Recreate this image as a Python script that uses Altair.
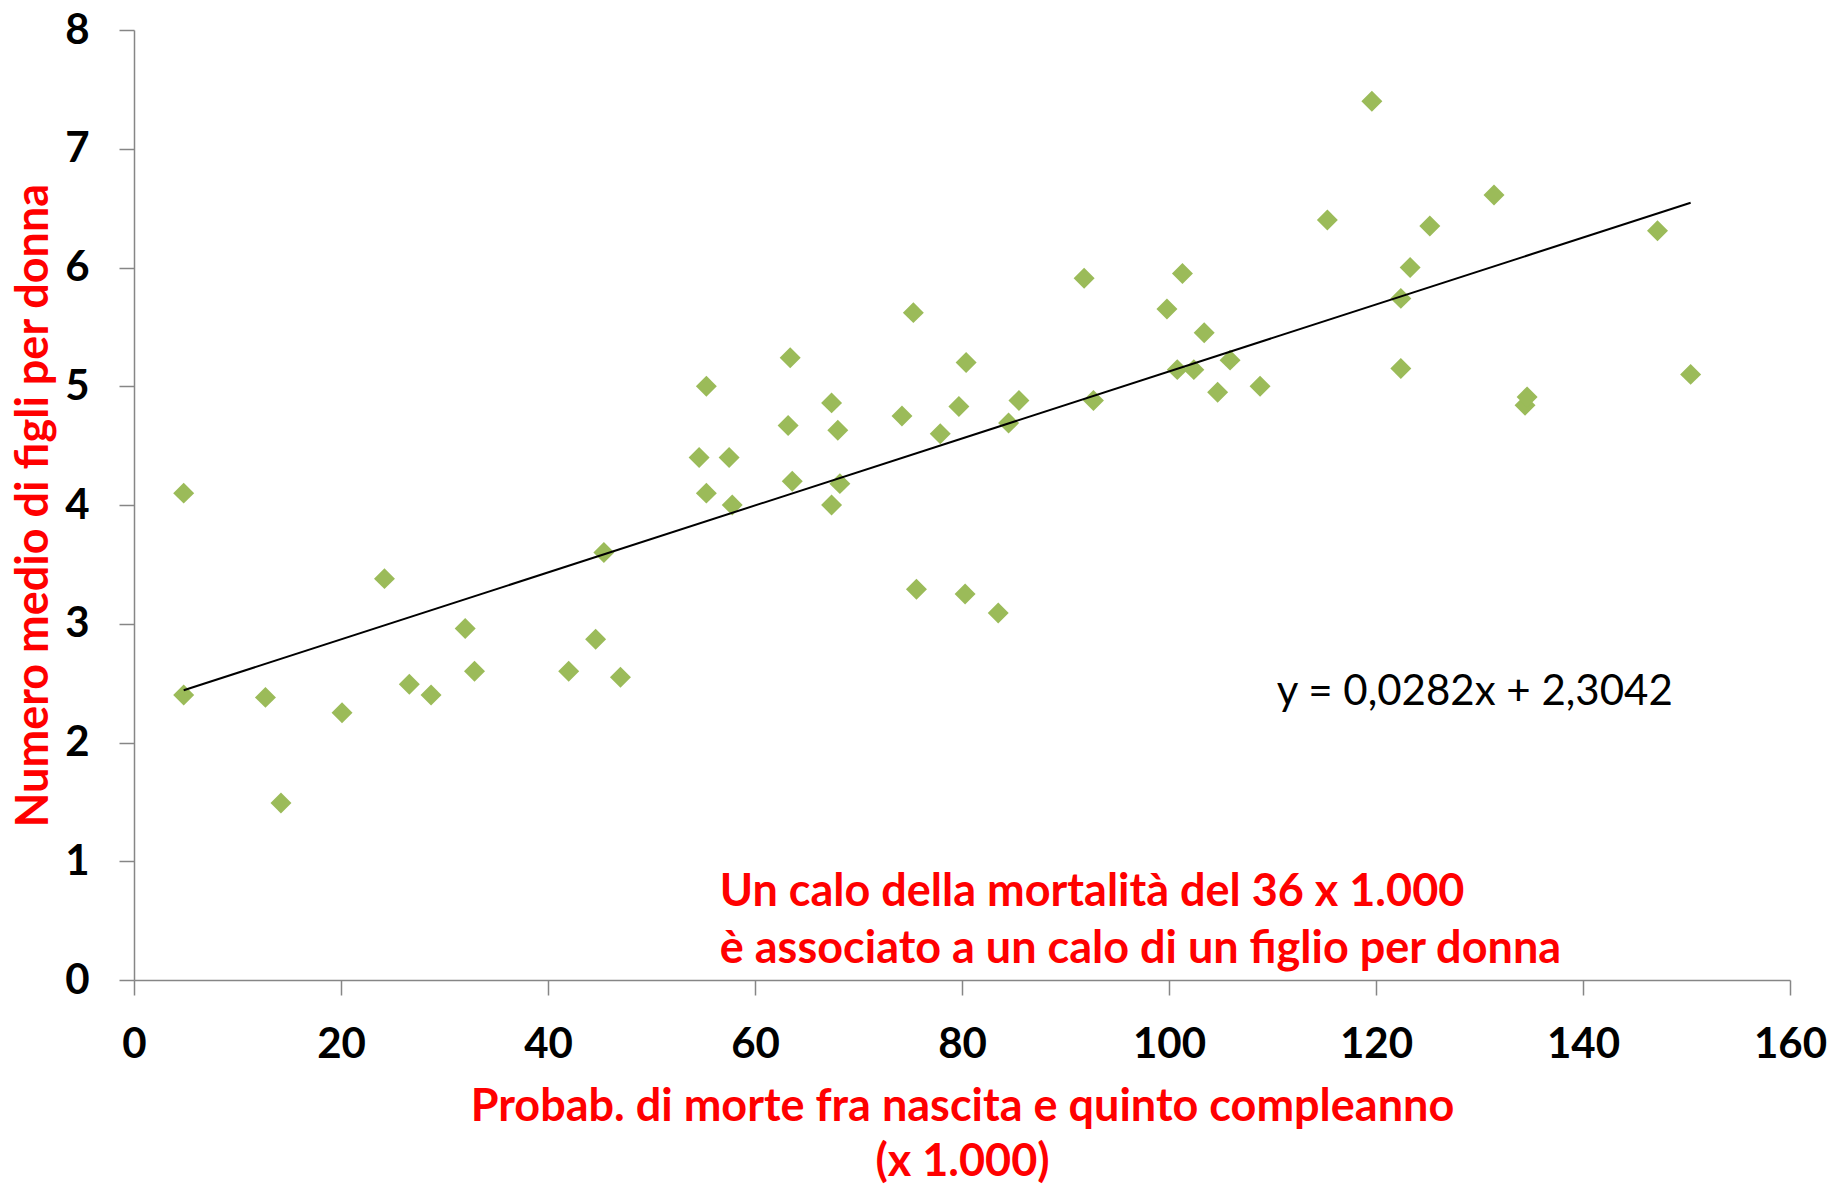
import altair as alt
import pandas as pd

# Data
mortality = [4.8, 4.8, 12.7, 14.2, 20.1, 24.2, 26.6, 28.7, 32.0, 32.9,
             42.0, 44.6, 45.4, 47.0, 54.6, 55.3, 55.3, 57.5, 57.8, 63.2,
             63.4, 63.6, 67.4, 67.4, 68.0, 68.2, 74.2, 75.3, 75.6, 77.9,
             79.7, 80.4, 80.3, 83.5, 84.5, 85.5, 91.8, 92.7, 99.8, 100.8,
             101.3, 102.4, 103.4, 104.7, 105.9, 108.8, 115.3, 119.6, 122.4, 122.4,
             123.3, 125.2, 131.4, 134.4, 134.6, 147.2, 150.4]
children = [4.10, 2.40, 2.38, 1.49, 2.25, 3.38, 2.49, 2.40, 2.96, 2.60,
            2.60, 2.87, 3.60, 2.55, 4.40, 5.00, 4.10, 4.40, 4.00, 4.67,
            5.24, 4.20, 4.86, 4.00, 4.63, 4.18, 4.75, 5.62, 3.29, 4.60,
            4.83, 5.20, 3.25, 3.09, 4.69, 4.88, 5.91, 4.88, 5.65, 5.14,
            5.95, 5.14, 5.45, 4.95, 5.22, 5.00, 6.40, 7.40, 5.74, 5.15,
            6.00, 6.35, 6.61, 4.84, 4.91, 6.31, 5.10]

slope = 0.0282
intercept = 2.3042
equation_text = "y = 0,0282x + 2,3042"
equation_pos = (129.55, 2.315)
note_lines = ["Un calo della mortalità del 36 x 1.000",
              "è associato a un calo di un figlio per donna"]
note_pos = (56.6, 0.622)

x_title = ["Probab. di morte fra nascita e quinto compleanno", "(x 1.000)"]
y_title = "Numero medio di figli per donna"

df = pd.DataFrame({"x": mortality, "y": children})
xmin, xmax = min(mortality), max(mortality)
trend = pd.DataFrame({"x": [xmin, xmax],
                      "y": [slope * xmin + intercept, slope * xmax + intercept]})
eq_df = pd.DataFrame({"x": [equation_pos[0]], "y": [equation_pos[1]], "t": [equation_text]})
note_df = pd.DataFrame({"x": [note_pos[0]], "y": [note_pos[1]]})

W, H = 1656, 950
FONT = "Lato"
RED = "#FF0000"
GRAY = "#868686"
TITLE_SIZE = 45

xscale = alt.Scale(domain=[0, 160], nice=False, zero=False)
yscale = alt.Scale(domain=[0, 8], nice=False)

xaxis = alt.Axis(values=list(range(0, 161, 20)), title=x_title, grid=False, format="d",
                 domainColor=GRAY, domainWidth=1.5, tickColor=GRAY, tickWidth=1.5,
                 tickSize=15, labelPadding=29, labelFont=FONT, labelFontSize=42,
                 labelFontWeight="bold", labelColor="black",
                 titleFont=FONT, titleFontSize=TITLE_SIZE, titleFontWeight="bold",
                 titleColor=RED, titleX=W / 2, titleY=140, titleAlign="center",
                 titleBaseline="alphabetic", titleLineHeight=55, labelFlush=False)
yaxis = alt.Axis(values=list(range(0, 9)), title=y_title, grid=False, format="d",
                 domainColor=GRAY, domainWidth=1.5, tickColor=GRAY, tickWidth=1.5,
                 tickSize=15, labelPadding=30, labelFont=FONT, labelFontSize=42,
                 labelFontWeight="bold", labelColor="black",
                 titleFont=FONT, titleFontSize=TITLE_SIZE, titleFontWeight="bold",
                 titleColor=RED, titleX=-101, titleY=H / 2, titleAngle=270,
                 titleAlign="center", titleBaseline="middle", labelFlush=False)

points = alt.Chart(df).mark_point(shape="diamond", filled=True, size=440,
                                  color="#9BBB59", opacity=1).encode(
    x=alt.X("x:Q", scale=xscale, axis=xaxis),
    y=alt.Y("y:Q", scale=yscale, axis=yaxis),
)

line = alt.Chart(trend).mark_line(color="black", strokeWidth=2).encode(
    x=alt.X("x:Q", scale=xscale),
    y=alt.Y("y:Q", scale=yscale),
)

eq = alt.Chart(eq_df).mark_text(font=FONT, fontSize=42, color="black",
                                align="center", baseline="alphabetic").encode(
    x=alt.X("x:Q", scale=xscale), y=alt.Y("y:Q", scale=yscale), text="t:N")

note = alt.Chart(note_df).mark_text(font=FONT, fontSize=TITLE_SIZE, fontWeight="bold",
                                    color=RED, align="left", baseline="alphabetic",
                                    lineHeight=57).encode(
    x=alt.X("x:Q", scale=xscale), y=alt.Y("y:Q", scale=yscale),
    text=alt.value(note_lines))

chart = alt.layer(points, line, eq, note).properties(
    width=W, height=H,
    autosize=alt.AutoSizeParams(type="none"),
    padding={"left": 126, "top": 22, "right": 46, "bottom": 204},
).configure_view(stroke=None)

chart.save("out.html", embed_options={"renderer": "svg", "actions": False})
